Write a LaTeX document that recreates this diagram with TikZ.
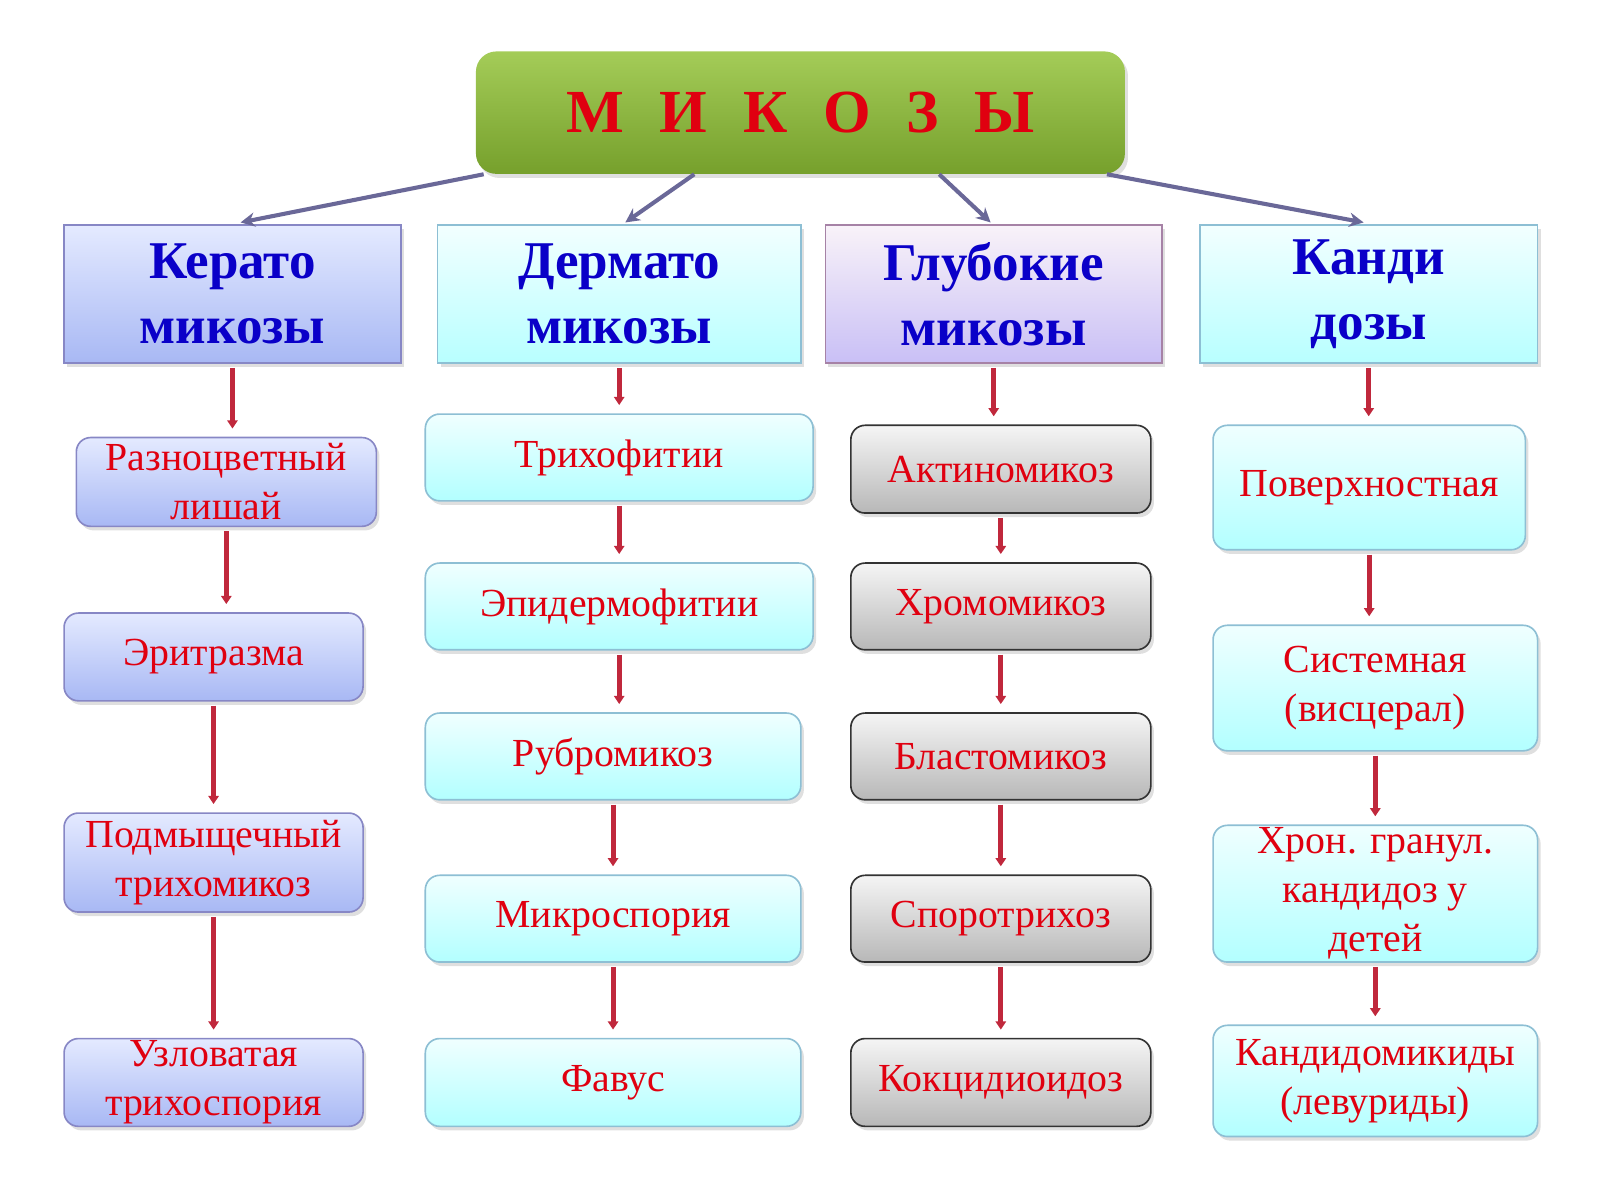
\documentclass[tikz,border=0pt]{standalone}
\usepackage{fontspec}
\setmainfont{Liberation Serif}
\usetikzlibrary{shadows,arrows.meta,calc}
\definecolor{tred}{HTML}{E00010}
\definecolor{hblue}{HTML}{0A00C8}
\definecolor{conn}{HTML}{6A6898}
\definecolor{vred}{HTML}{C0283C}
\definecolor{ktop}{HTML}{E4EAFF}
\definecolor{kbot}{HTML}{A8B8F4}
\definecolor{gtop}{HTML}{A4CC58}
\definecolor{gbot}{HTML}{76A02C}
\begin{document}
\begin{tikzpicture}[x=0.5pt,y=-0.5pt,
 box/.style={draw,line width=0.8pt,anchor=north west,inner sep=0pt,align=center,text=tred,
   font=\fontsize{19.5}{24}\selectfont,rounded corners=7pt,drop shadow={opacity=0.25,shadow xshift=1.5pt,shadow yshift=-2pt}},
 kb/.style={box,draw=blue!35!gray!70,top color=ktop,bottom color=kbot},
 cb/.style={box,draw=cyan!50!gray!70,top color=cyan!6,bottom color=cyan!30},
 gb/.style={box,draw=black!80,top color=black!4,bottom color=black!28},
 hd/.style={draw,line width=0.8pt,anchor=north west,inner sep=0pt,align=center,text=hblue,
   font=\bfseries\fontsize{26}{32}\selectfont,drop shadow={opacity=0.25,shadow xshift=1.5pt,shadow yshift=-2pt}},
 tc/.style={conn,line width=2pt,-{Stealth[length=7pt,width=7pt]}},
 va/.style={vred,line width=2.5pt,-{Triangle[length=4pt,width=5pt]},shorten >=4pt}]
\useasboundingbox (0,0) rectangle (1568,1176);
% title
\node[anchor=north west,minimum width=318pt,minimum height=60pt,rounded corners=10pt,
  top color=gtop,bottom color=gbot,draw=none,
  drop shadow={opacity=0.25,shadow xshift=1.5pt,shadow yshift=-2pt},text=tred,
  font=\bfseries\fontsize{30}{36}\selectfont] (t) at (466,50) {М\,\, И\,\, К\,\, О\,\, З\,\, Ы};
% headers
\node[hd,draw=blue!35!gray!70,top color=ktop,bottom color=kbot,minimum width=165pt,minimum height=67.5pt] (h1) at (62,220) {Керато\\микозы};
\node[hd,draw=cyan!50!gray!70,top color=cyan!5,bottom color=cyan!28,minimum width=178pt,minimum height=67.5pt] (h2) at (428,220) {Дермато\\микозы};
\node[hd,draw=violet!40!gray!70,top color=violet!5,bottom color=violet!30!blue!25,minimum width=165pt,minimum height=67.5pt] (h3) at (808,220) {Глубокие\\микозы};
\node[hd,draw=cyan!50!gray!70,top color=cyan!5,bottom color=cyan!28,minimum width=165.5pt,minimum height=67.5pt] (h4) at (1175,220) {Канди\\дозы};
% col1
\node[kb,minimum width=147pt,minimum height=43.5pt] (a1) at (74,428) {Разноцветный\\лишай};
\node[kb,minimum width=146.5pt,minimum height=43pt] (a2) at (62,600) {Эритразма};
\node[kb,minimum width=146.5pt,minimum height=48.5pt] (a3) at (62,796) {Подмыщечный\\трихомикоз};
\node[kb,minimum width=146.5pt,minimum height=43pt] (a4) at (62,1017) {Узловатая\\трихоспория};
% col2
\node[cb,minimum width=190pt,minimum height=42.5pt] (b1) at (416,405) {Трихофитии};
\node[cb,minimum width=190pt,minimum height=42.5pt] (b2) at (416,551) {Эпидермофитии};
\node[cb,minimum width=184pt,minimum height=42.5pt] (b3) at (416,698) {Рубромикоз};
\node[cb,minimum width=184pt,minimum height=42.5pt] (b4) at (416,857) {Микроспория};
\node[cb,minimum width=184pt,minimum height=43pt] (b5) at (416,1017) {Фавус};
% col3
\node[gb,minimum width=147pt,minimum height=43pt] (c1) at (833,416) {Актиномикоз};
\node[gb,minimum width=147pt,minimum height=42.5pt] (c2) at (833,551) {Хромомикоз};
\node[gb,minimum width=147pt,minimum height=42.5pt] (c3) at (833,698) {Бластомикоз};
\node[gb,minimum width=147pt,minimum height=42.5pt] (c4) at (833,857) {Споротрихоз};
\node[gb,minimum width=147pt,minimum height=43pt] (c5) at (833,1017) {Кокцидиоидоз};
% col4
\node[cb,minimum width=153pt,minimum height=61pt] (d1) at (1188,416) {Поверхностная};
\node[cb,minimum width=159pt,minimum height=61.5pt] (d2) at (1188,612) {Системная\\(висцерал)};
\node[cb,minimum width=159pt,minimum height=67pt] (d3) at (1188,808) {Хрон. гранул.\\кандидоз у\\детей};
\node[cb,minimum width=159pt,minimum height=54.5pt] (d4) at (1188,1004) {Кандидомикиды\\(левуриды)};
% top connectors
\draw[tc] ($(t.south west)+(8,0)$) -- ($(h1.north)+(8,-2)$);
\draw[tc] ($(t.south)+(-104,0)$) -- ($(h2.north)+(6,-2)$);
\draw[tc] ($(t.south)+(136,0)$) -- ($(h3.north)+(-3,-2)$);
\draw[tc] ($(t.south east)+(-18,0)$) -- ($(h4.north)+(-5,-2)$);
% vertical connectors
\foreach \p/\q in {h1/a1,a1/a2,a2/a3,a3/a4,h2/b1,b1/b2,b2/b3,b3/b4,b4/b5,h3/c1,c1/c2,c2/c3,c3/c4,c4/c5,h4/d1,d1/d2,d2/d3,d3/d4}
  \draw[va] ($(\p.south)+(0,4)$) -- ($(\p.south |- \q.north)$);
\end{tikzpicture}
\end{document}
